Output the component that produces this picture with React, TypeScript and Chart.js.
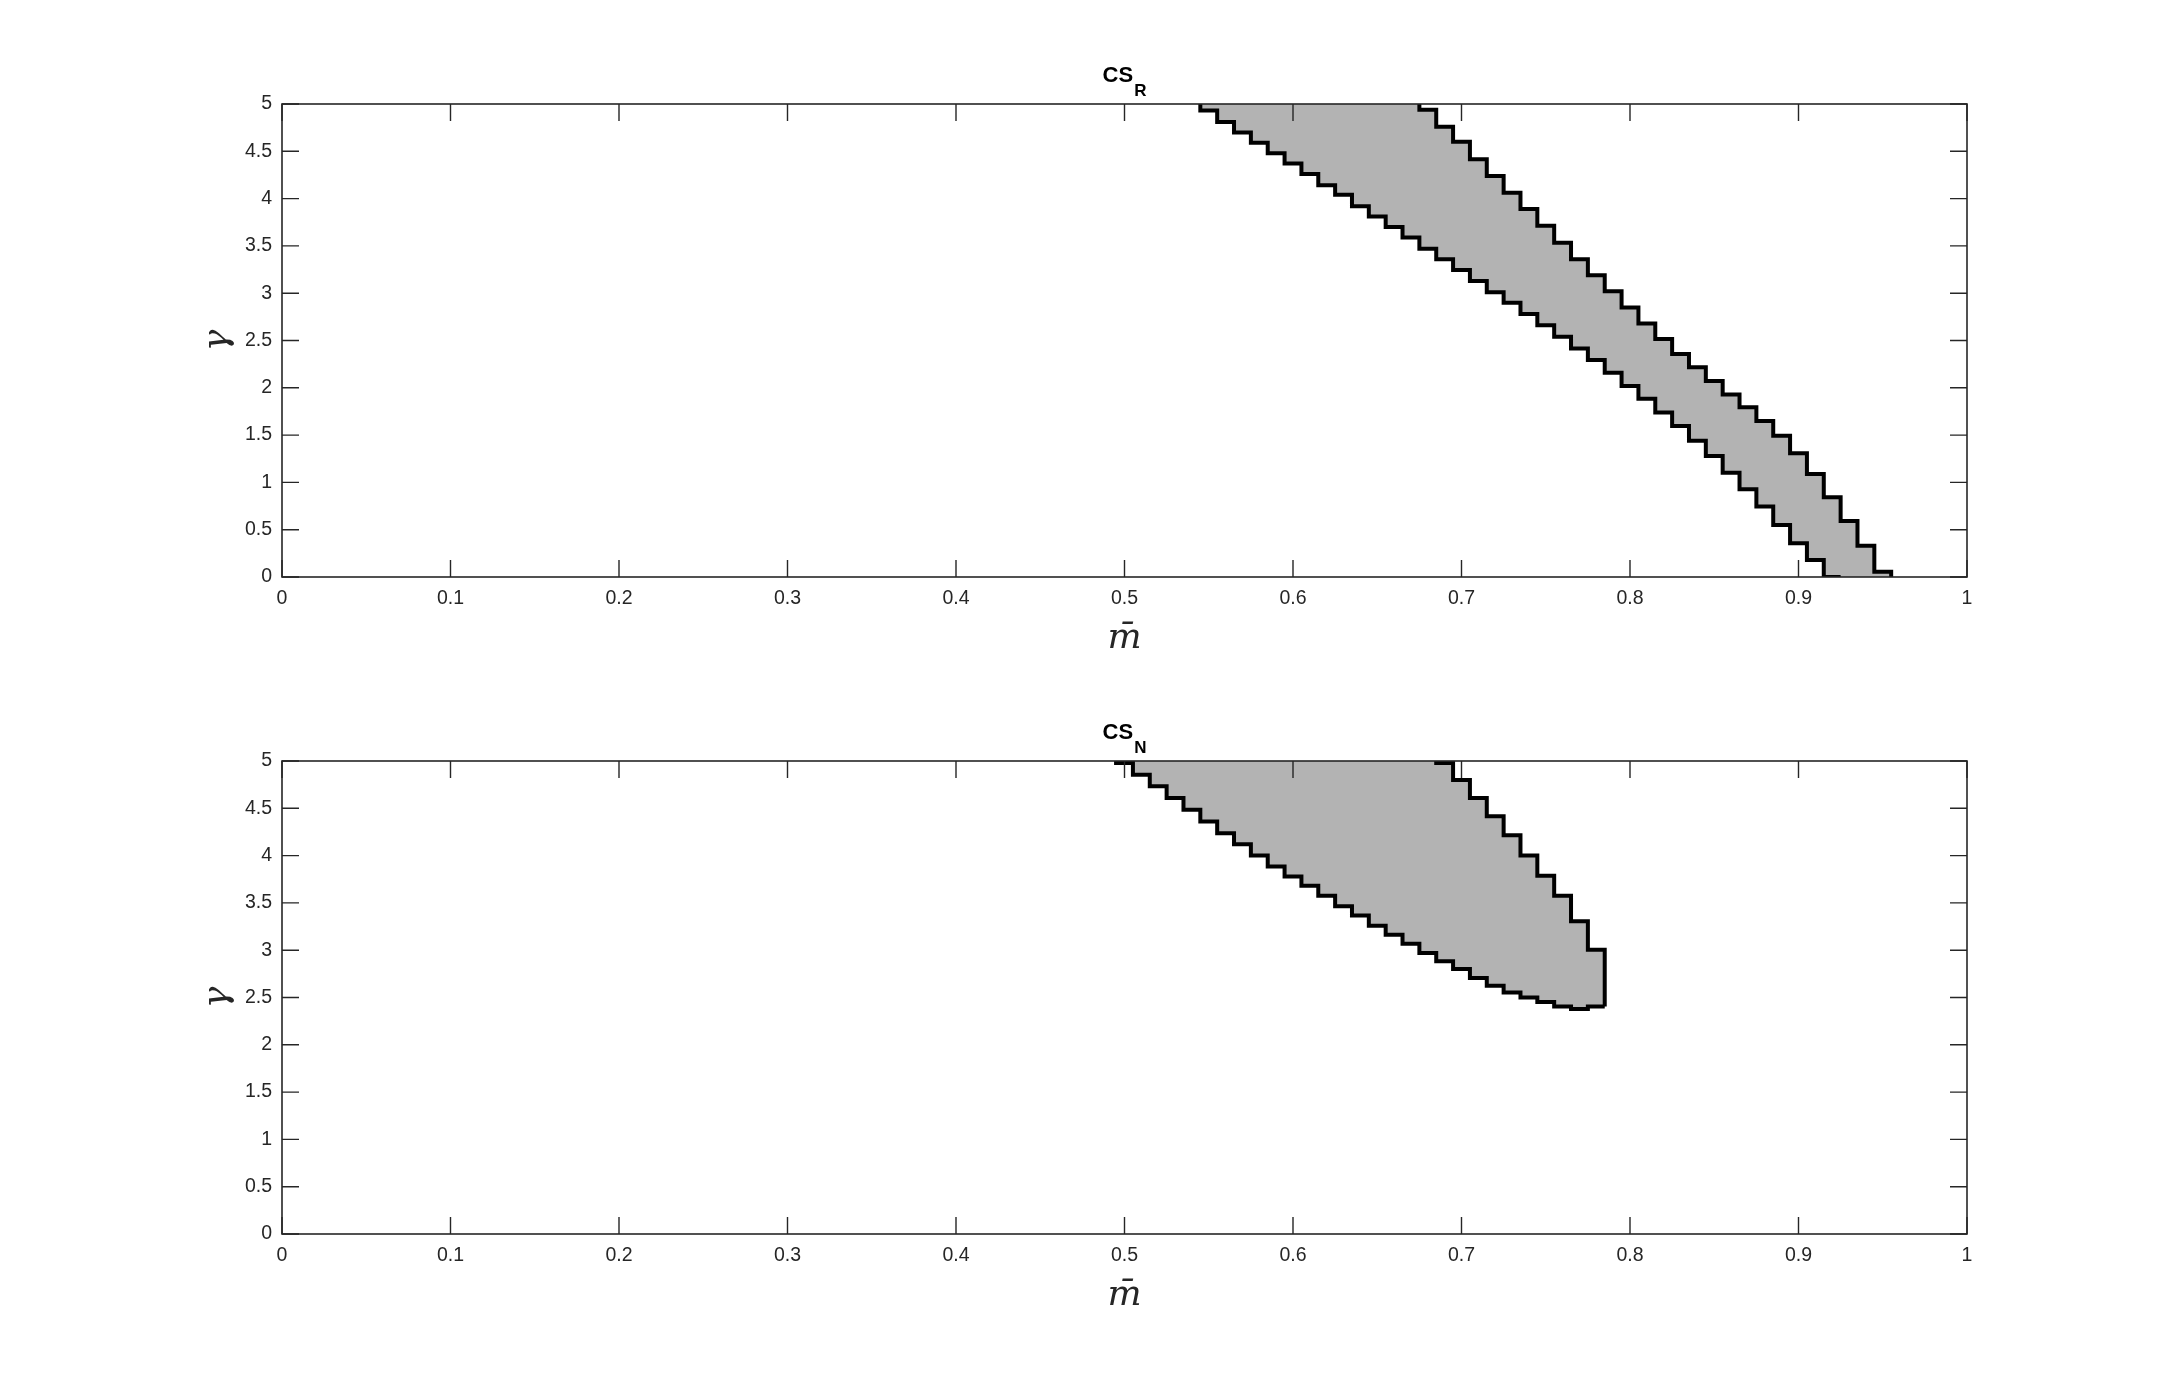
import React, { useEffect, useRef } from "react";
import { Chart, registerables } from "chart.js";

Chart.register(...registerables);

// ---- tick values / labels ----
const xTickValues = [0, 0.1, 0.2, 0.3, 0.4, 0.5, 0.6, 0.7, 0.8, 0.9, 1];
const xTickLabels = ["0", "0.1", "0.2", "0.3", "0.4", "0.5", "0.6", "0.7", "0.8", "0.9", "1"];
const yTickValues = [0, 0.5, 1, 1.5, 2, 2.5, 3, 3.5, 4, 4.5, 5];
const yTickLabels = ["0", "0.5", "1", "1.5", "2", "2.5", "3", "3.5", "4", "4.5", "5"];

// ---- CS_R : lower-left boundary (m step edges, gamma level after each step) ----
const mEdgesR_low = [
  0.545, 0.555, 0.565, 0.575, 0.585, 0.595, 0.605, 0.615, 0.625, 0.635,
  0.645, 0.655, 0.665, 0.675, 0.685, 0.695, 0.705, 0.715, 0.725, 0.735,
  0.745, 0.755, 0.765, 0.775, 0.785, 0.795, 0.805, 0.815, 0.825, 0.835,
  0.845, 0.855, 0.865, 0.875, 0.885, 0.895, 0.905, 0.915,
];
const gR_low = [
  4.93, 4.81, 4.7, 4.59, 4.48, 4.37, 4.26, 4.14, 4.04, 3.92,
  3.81, 3.7, 3.59, 3.47, 3.36, 3.245, 3.13, 3.01, 2.9, 2.78,
  2.66, 2.54, 2.415, 2.295, 2.16, 2.02, 1.885, 1.74, 1.596, 1.441,
  1.279, 1.103, 0.927, 0.744, 0.55, 0.356, 0.18, 0.0,
];
const mEndR_low = 0.925;

// ---- CS_R : upper-right boundary ----
const mEdgesR_up = [
  0.675, 0.685, 0.695, 0.705, 0.715, 0.725, 0.735, 0.745, 0.755, 0.765,
  0.775, 0.785, 0.795, 0.805, 0.815, 0.825, 0.835, 0.845, 0.855, 0.865,
  0.875, 0.885, 0.895, 0.905, 0.915, 0.925, 0.935, 0.945,
];
const gR_up = [
  4.94, 4.76, 4.6, 4.415, 4.24, 4.063, 3.89, 3.714, 3.534, 3.36,
  3.19, 3.02, 2.85, 2.68, 2.516, 2.357, 2.217, 2.072, 1.93, 1.794,
  1.649, 1.494, 1.307, 1.089, 0.842, 0.592, 0.331, 0.056,
];
const mEndR_up = 0.955;

// ---- CS_N : lower boundary ----
const mEdgesN_low = [
  0.495, 0.505, 0.515, 0.525, 0.535, 0.545, 0.555, 0.565, 0.575, 0.585,
  0.595, 0.605, 0.615, 0.625, 0.635, 0.645, 0.655, 0.665, 0.675, 0.685,
  0.695, 0.705, 0.715, 0.725, 0.735, 0.745, 0.755, 0.765, 0.775,
];
const gN_low = [
  4.98, 4.855, 4.732, 4.609, 4.485, 4.36, 4.235, 4.12, 4.0, 3.886,
  3.78, 3.68, 3.575, 3.465, 3.368, 3.259, 3.164, 3.069, 2.97, 2.882,
  2.8, 2.706, 2.625, 2.554, 2.501, 2.452, 2.406, 2.378, 2.406,
];
const mEndN_low = 0.785;

// ---- CS_N : upper-right boundary ----
const mEdgesN_up = [0.685, 0.695, 0.705, 0.715, 0.725, 0.735, 0.745, 0.755, 0.765, 0.775];
const gN_up = [4.98, 4.8, 4.61, 4.415, 4.214, 4.0, 3.788, 3.576, 3.305, 3.005];
const mEndN_up = 0.785;

const GAMMA_MIN = 0;
const GAMMA_MAX = 5;

const AXIS_COLOR = "#262626";
const FILL_COLOR = "#b3b3b3";
const SANS = '"Liberation Sans", Arial, Helvetica, sans-serif';
const SERIF = '"DejaVu Serif", "Liberation Serif", serif';

type Pt = { x: number; y: number };
type Boundary = { edges: number[]; levels: number[]; end: number; startLevel: number; endLevel: number; after: number };

function outlinePoints(b: Boundary): Pt[] {
  const pts: Pt[] = [{ x: b.edges[0], y: b.startLevel }];
  b.edges.forEach((m, i) => pts.push({ x: m, y: b.levels[i] }));
  const last = b.levels[b.levels.length - 1];
  pts.push({ x: b.end, y: last });
  if (b.endLevel !== last) pts.push({ x: b.end, y: b.endLevel });
  return pts;
}

function levelAt(b: Boundary, m: number): number {
  if (m < b.edges[0] - 1e-9) return b.startLevel;
  if (m >= b.end - 1e-9) return b.after;
  let v = b.startLevel;
  b.edges.forEach((e, i) => {
    if (m >= e - 1e-9) v = b.levels[i];
  });
  return v;
}

function fillPoints(low: Boundary, high: Boundary): [Pt[], Pt[]] {
  const all = [...low.edges, low.end, ...high.edges, high.end].map((v) => Math.round(v * 1000) / 1000);
  const grid = Array.from(new Set(all)).sort((a, b) => a - b);
  return [grid.map((m) => ({ x: m, y: levelAt(low, m) })), grid.map((m) => ({ x: m, y: levelAt(high, m) }))];
}

function framePlugin(sub: string) {
  return {
    id: "matlabFrame",
    afterDatasetsDraw(chart: any) {
      const { ctx, chartArea: a, scales } = chart;
      const xs = scales.x;
      const ys = scales.y;
      const TICK = 17;
      ctx.save();
      ctx.strokeStyle = AXIS_COLOR;
      ctx.lineWidth = 1.4;
      ctx.beginPath();
      xs.ticks.forEach((t: any) => {
        const px = xs.getPixelForValue(t.value);
        ctx.moveTo(px, a.bottom);
        ctx.lineTo(px, a.bottom - TICK);
        ctx.moveTo(px, a.top);
        ctx.lineTo(px, a.top + TICK);
      });
      ys.ticks.forEach((t: any) => {
        const py = ys.getPixelForValue(t.value);
        ctx.moveTo(a.left, py);
        ctx.lineTo(a.left + TICK, py);
        ctx.moveTo(a.right, py);
        ctx.lineTo(a.right - TICK, py);
      });
      ctx.stroke();
      ctx.lineWidth = 1.6;
      ctx.strokeRect(a.left, a.top, a.right - a.left, a.bottom - a.top);

      // title: CS with subscript
      const cx = (a.left + a.right) / 2;
      ctx.fillStyle = "#000";
      ctx.textBaseline = "alphabetic";
      ctx.textAlign = "left";
      const mainFont = `bold 22px ${SANS}`;
      const subFont = `bold 17px ${SANS}`;
      ctx.font = mainFont;
      const w1 = ctx.measureText("CS").width;
      ctx.font = subFont;
      const w2 = ctx.measureText(sub).width;
      const x0 = cx - (w1 + 1 + w2) / 2;
      ctx.font = mainFont;
      ctx.fillText("CS", x0, a.top - 22);
      ctx.font = subFont;
      ctx.fillText(sub, x0 + w1 + 1, a.top - 8);

      // x label
      ctx.fillStyle = AXIS_COLOR;
      ctx.font = `italic 36px ${SERIF}`;
      ctx.textAlign = "center";
      ctx.fillText("m\u0304", cx, a.bottom + 71);

      // y label (rotated)
      ctx.translate(a.left - 55, (a.top + a.bottom) / 2);
      ctx.rotate(-Math.PI / 2);
      ctx.fillText("\u03b3", 0, 0);
      ctx.restore();
    },
  };
}

function Panel({ top, height, low, high, sub }: { top: number; height: number; low: Boundary; high: Boundary; sub: string }) {
  const ref = useRef<HTMLCanvasElement | null>(null);
  useEffect(() => {
    if (!ref.current) return;
    const [fLow, fHigh] = fillPoints(low, high);
    const tickFont = { family: SANS, size: 19.5 };
    const outlineStyle = {
      borderColor: "#000",
      borderWidth: 4,
      pointRadius: 0,
      stepped: "before" as const,
      fill: false,
      borderJoinStyle: "miter" as const,
      clip: 0,
    };
    const chart = new Chart(ref.current, {
      type: "line",
      data: {
        datasets: [
          { ...outlineStyle, data: outlinePoints(low) },
          { ...outlineStyle, data: outlinePoints(high) },
          {
            data: fLow,
            borderColor: "rgba(0,0,0,0)",
            borderWidth: 0,
            pointRadius: 0,
            stepped: "before",
            backgroundColor: FILL_COLOR,
            fill: "+1",
          },
          {
            data: fHigh,
            borderColor: "rgba(0,0,0,0)",
            borderWidth: 0,
            pointRadius: 0,
            stepped: "before",
            fill: false,
          },
        ],
      },
      options: {
        responsive: false,
        animation: false,
        events: [],
        layout: { padding: { top: 104, left: 182, right: 206, bottom: height - 577 - 60 } },
        plugins: { legend: { display: false }, tooltip: { enabled: false }, title: { display: false } },
        scales: {
          x: {
            type: "linear",
            min: 0,
            max: 1,
            grid: { display: false, drawTicks: false },
            border: { display: false },
            afterBuildTicks: (s: any) => {
              s.ticks = xTickValues.map((v) => ({ value: v }));
            },
            afterFit: (s: any) => {
              s.height = 60;
            },
            ticks: {
              padding: 10,
              maxRotation: 0,
              autoSkip: false,
              color: AXIS_COLOR,
              font: tickFont,
              callback: (_v: any, i: number) => xTickLabels[i],
            },
          },
          y: {
            type: "linear",
            min: GAMMA_MIN,
            max: GAMMA_MAX,
            grid: { display: false, drawTicks: false },
            border: { display: false },
            afterBuildTicks: (s: any) => {
              s.ticks = yTickValues.map((v) => ({ value: v }));
            },
            afterFit: (s: any) => {
              s.width = 100;
            },
            ticks: {
              padding: 10,
              autoSkip: false,
              color: AXIS_COLOR,
              font: tickFont,
              callback: (_v: any, i: number) => yTickLabels[i],
            },
          },
        },
      } as any,
      plugins: [framePlugin(sub)],
    });
    return () => chart.destroy();
  }, []);
  return (
    <canvas
      ref={ref}
      width={2173}
      height={height}
      style={{ position: "absolute", left: 0, top, width: 2173, height }}
    />
  );
}

const boundaryR_low: Boundary = { edges: mEdgesR_low, levels: gR_low, end: mEndR_low, startLevel: GAMMA_MAX, endLevel: 0, after: 0 };
const boundaryR_up: Boundary = { edges: mEdgesR_up, levels: gR_up, end: mEndR_up, startLevel: GAMMA_MAX, endLevel: 0, after: 0 };
const boundaryN_low: Boundary = {
  edges: mEdgesN_low,
  levels: gN_low,
  end: mEndN_low,
  startLevel: GAMMA_MAX,
  endLevel: gN_low[gN_low.length - 1],
  after: gN_low[gN_low.length - 1],
};
const boundaryN_up: Boundary = {
  edges: mEdgesN_up,
  levels: gN_up,
  end: mEndN_up,
  startLevel: GAMMA_MAX,
  endLevel: gN_low[gN_low.length - 1],
  after: gN_low[gN_low.length - 1],
};

export default function App() {
  return (
    <div style={{ position: "absolute", left: 0, top: 0, width: 2173, height: 1385, background: "#fff" }}>
      <Panel top={0} height={657} low={boundaryR_low} high={boundaryR_up} sub="R" />
      <Panel top={657} height={728} low={boundaryN_low} high={boundaryN_up} sub="N" />
    </div>
  );
}
